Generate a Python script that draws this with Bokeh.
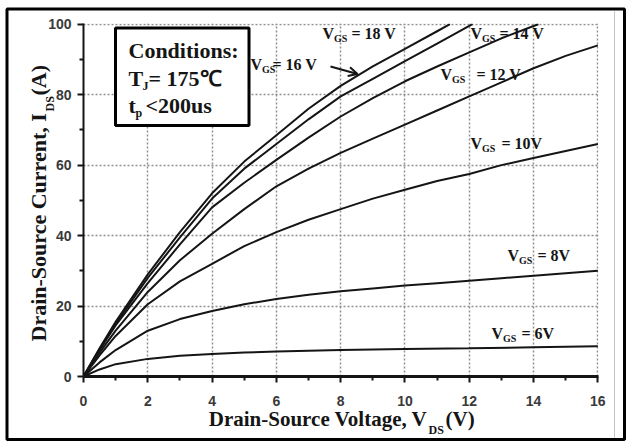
import math
from bokeh.plotting import figure
from bokeh.models import Range1d, FixedTicker, Label, BoxAnnotation, Arrow, OpenHead
from bokeh.embed import file_html
from bokeh.resources import INLINE

# ---------------- data ----------------
vds_18 = [0, 0.5, 1, 2, 3, 4, 5, 6, 7, 8, 9, 10, 11, 11.4]
ids_18 = [0, 8, 15.5, 29, 41, 52, 61, 68.5, 76, 82.5, 88, 93, 98, 100]

vds_16 = [0, 0.5, 1, 2, 3, 4, 5, 6, 7, 8, 9, 10, 11, 12, 12.1]
ids_16 = [0, 7.8, 15, 28, 39.5, 50.5, 59, 66, 73, 79.5, 84.5, 89.5, 94.5, 99.5, 100]

vds_14 = [0, 0.5, 1, 2, 3, 4, 5, 6, 7, 8, 9, 10, 11, 12, 13, 14, 14.15]
ids_14 = [0, 7.5, 14.5, 26.5, 37.5, 48, 55, 61.5, 67.8, 73.8, 79, 83.8, 88, 92, 96, 99.5, 100]

vds_12 = [0, 0.5, 1, 2, 3, 4, 5, 6, 7, 8, 9, 10, 11, 12, 13, 14, 15, 16]
ids_12 = [0, 6.8, 13, 24, 33, 40.5, 47.5, 54, 59, 63.5, 67.5, 71.5, 75.5, 79.5, 83.5, 87.5, 91, 94]

vds_10 = [0, 0.5, 1, 2, 3, 4, 5, 6, 7, 8, 9, 10, 11, 12, 13, 14, 15, 16]
ids_10 = [0, 6, 11.5, 20.5, 27, 32, 37, 41, 44.5, 47.5, 50.5, 53, 55.5, 57.5, 60, 62, 64, 66]

vds_8 = [0, 0.5, 1, 2, 3, 4, 5, 6, 7, 8, 9, 10, 11, 12, 13, 14, 15, 16]
ids_8 = [0, 4, 7.5, 13, 16.3, 18.6, 20.5, 22, 23.2, 24.2, 25, 25.8, 26.5, 27.2, 27.9, 28.6, 29.3, 30]

vds_6 = [0, 0.5, 1, 2, 3, 4, 5, 6, 7, 8, 10, 12, 14, 16]
ids_6 = [0, 2, 3.5, 5, 5.9, 6.4, 6.8, 7.1, 7.3, 7.5, 7.8, 8, 8.3, 8.6]

x_ticks = [0, 2, 4, 6, 8, 10, 12, 14, 16]
x_minor = [1, 3, 5, 7, 9, 11, 13, 15]
y_ticks = [0, 20, 40, 60, 80, 100]
y_minor = [10, 30, 50, 70, 90]

vgs_rest = ["= 18 V", "= 16 V", "= 14 V", "= 12 V", "= 10V", "= 8V", "= 6V"]
cond_title = "Conditions:"
cond_tj = "= 175\u2103"
cond_tp = "<200us"
x_title = "Drain-Source Voltage, V"
y_title = "Drain-Source Current, I"
title_sub = "DS"
x_unit = "(V)"
y_unit = "(A)"

# ---------------- layout ----------------
W, H = 627, 443
PX0, PX1, PY0, PY1 = 83.0, 598.0, 376.0, 23.0      # frame edges in page pixels
XMAX, YMAX = 16.02, 100.2                           # tiny margin so the 16 / 100 grid lines show

def dx(px):
    return (px - PX0) / (PX1 - PX0) * XMAX
def dy(py):
    return (PY0 - py) / (PY0 - PY1) * YMAX

SERIF = "Liberation Serif"
SANS = "Liberation Sans"
INK = "#151515"

p = figure(width=W, height=H, x_range=Range1d(0, XMAX), y_range=Range1d(0, YMAX),
           output_backend="svg", toolbar_location=None,
           min_border_left=int(PX0), min_border_right=int(W - PX1),
           min_border_top=int(PY1), min_border_bottom=int(H - PY0))
p.background_fill_color = "white"
p.border_fill_color = "white"
p.outline_line_color = None

p.xaxis.ticker = FixedTicker(ticks=x_ticks, minor_ticks=x_minor)
p.yaxis.ticker = FixedTicker(ticks=y_ticks, minor_ticks=y_minor)
for ax in (p.xaxis, p.yaxis):
    ax.axis_line_color = INK
    ax.major_tick_line_color = INK
    ax.minor_tick_line_color = INK
    ax.major_tick_in = 0
    ax.major_tick_out = 6
    ax.minor_tick_in = 0
    ax.minor_tick_out = 4
    ax.major_tick_line_width = 2
    ax.minor_tick_line_width = 2
    ax.major_label_text_font = SANS
    ax.major_label_text_font_style = "bold"
    ax.major_label_text_font_size = "14px"
    ax.major_label_text_color = "#3a3a3a"
p.xaxis.axis_line_width = 3
p.yaxis.axis_line_width = 2
p.xaxis.major_label_standoff = 13
p.yaxis.major_label_standoff = 6

p.grid.grid_line_color = "#8f8f8f"
p.grid.grid_line_dash = "2 2"
p.grid.grid_line_width = 1.5

for xs, ys in [(vds_18, ids_18), (vds_16, ids_16), (vds_14, ids_14), (vds_12, ids_12),
               (vds_10, ids_10), (vds_8, ids_8), (vds_6, ids_6)]:
    p.line(xs, ys, line_color=INK, line_width=2)

def txt(px, py, text, size, align="left", angle=0.0, font=SERIF):
    p.add_layout(Label(x=dx(px), y=dy(py), text=text, text_font=font,
                       text_font_size=f"{size}px", text_font_style="bold",
                       text_color=INK, text_align=align, text_baseline="middle",
                       angle=angle))

# curve labels: (V x, centre y, rest x)
lab_pos = [(322, 33, 351), (250, 64, 272), (470, 33, 499), (440, 74, 476),
           (470, 143, 501), (507, 255, 537), (491, 333, 521)]
for (vx, vy, rx), rest in zip(lab_pos, vgs_rest):
    txt(vx, vy, "V", 16)
    txt(vx + 11.5, vy + 5, "GS", 10)
    txt(rx, vy, rest, 16)

p.add_layout(Arrow(end=OpenHead(size=9, line_width=2, line_color=INK),
                   x_start=dx(330), y_start=dy(66), x_end=dx(357), y_end=dy(73.5),
                   line_width=2, line_color=INK))

# conditions box
p.add_layout(BoxAnnotation(left=dx(115), right=dx(248.5), top=dy(27.5), bottom=dy(125),
                           fill_color="white", fill_alpha=1.0,
                           line_color="black", line_width=3, line_alpha=1.0))
txt(128, 50, cond_title, 22)
txt(128, 78, "T", 22)
txt(142, 85, "J", 12)
txt(148, 78, cond_tj, 22)
txt(128, 105, "t", 22)
txt(135, 112, "p", 12)
txt(145, 105, cond_tp, 22)

# ---------------- transparent overlay (page-pixel coordinates) for texts outside the frame ----
o = figure(width=W, height=H, x_range=Range1d(0, W), y_range=Range1d(H, 0),
           output_backend="svg", toolbar_location=None,
           x_axis_location=None, y_axis_location=None,
           min_border=0, min_border_left=0, min_border_right=0,
           min_border_top=0, min_border_bottom=0,
           styles={"position": "absolute", "left": "0px", "top": "0px"})
o.background_fill_color = None
o.border_fill_color = None
o.outline_line_color = None
o.grid.visible = False

def otxt(px, py, text, size, align="left", angle=0.0, font=SERIF):
    o.add_layout(Label(x=px, y=py, text=text, text_font=font,
                       text_font_size=f"{size}px", text_font_style="bold",
                       text_color=INK, text_align=align, text_baseline="middle",
                       angle=angle))

otxt(427, 418, x_title, 21, align="right")
otxt(428, 429, title_sub, 12)
otxt(445, 418, x_unit, 21)

otxt(38, 341, y_title, 22, angle=math.pi / 2)
otxt(49, 111, title_sub, 12, angle=math.pi / 2)
otxt(38, 95, y_unit, 22, angle=math.pi / 2)

# outer frame of the picture and the faint scan line near the right edge
o.add_layout(BoxAnnotation(left=6.5, right=624, top=8.5, bottom=439,
                           fill_alpha=0.0, line_color="black", line_width=3, line_alpha=1.0))
o.add_layout(BoxAnnotation(left=614, right=614, top=11, bottom=437,
                           fill_alpha=0.0, line_color="#c4c4c4", line_width=1, line_alpha=1.0))

open("out.html", "w").write(file_html([p, o], INLINE))
